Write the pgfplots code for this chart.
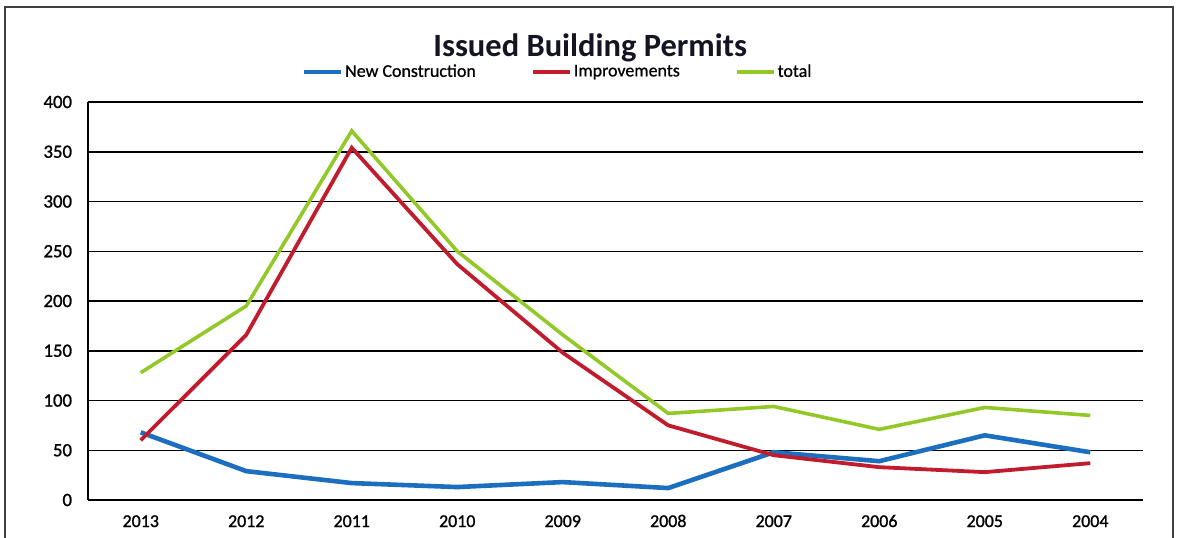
\documentclass[border=0pt]{standalone}
\usepackage{fontspec}
\setmainfont{Carlito}
\newfontfamily\tickfont{Carlito}[FakeBold=1.2]
\newfontfamily\legfont{Carlito}[FakeBold=0.8]
\usepackage{pgfplots}
\pgfplotsset{compat=1.18}
\definecolor{ncblue}{RGB}{28,110,190}
\definecolor{imred}{RGB}{192,28,45}
\definecolor{totgreen}{RGB}{146,200,40}
\definecolor{titlecol}{RGB}{20,20,35}

\pgfplotstableread{
x new impr total
0 68 60 128
1 29 166 195
2 17 354 371
3 13 237 250
4 18 148 166
5 12 75 87
6 48 45 94
7 39 33 71
8 65 28 93
9 48 37 85
}\permits

\begin{document}
\begin{tikzpicture}
\useasboundingbox (0,0) rectangle (589bp,269bp);
\draw[line width=0.8bp, black!75] (2.5bp,-5bp) rectangle (586.5bp,265.5bp);
\begin{axis}[
  at={(44bp,19bp)}, anchor=south west,
  scale only axis, width=527.5bp, height=199bp,
  xmin=-0.5, xmax=9.5, ymin=0, ymax=400,
  xtick={0,...,9},
  xticklabels={2013,2012,2011,2010,2009,2008,2007,2006,2005,2004},
  ytick={0,50,...,400},
  axis x line*=bottom, axis y line*=left,
  axis line style={-, black, line width=0.8bp},
  ymajorgrids, grid style={black, line width=0.75bp},
  major tick length=0pt,
  /pgf/number format/assume math mode=true,
  xticklabel style={font=\tickfont\fontsize{9}{10}\selectfont, anchor=base, yshift=-13.5bp},
  yticklabel style={font=\tickfont\fontsize{9.4}{10}\selectfont, anchor=east, inner xsep=0pt, xshift=-7.8bp},
  title={Issued Building Permits},
  title style={at={(0.476,1.105)}, anchor=center, font=\fontsize{16.3}{19}\selectfont\bfseries, text=titlecol},
  legend columns=3,
  legend style={draw=none, fill=none, at={(0.445,1.075)}, anchor=center,
    font=\legfont\fontsize{9}{11}\selectfont, inner sep=0pt,
    /tikz/every even column/.append style={column sep=27bp},
    nodes={inner xsep=0.8bp, inner ysep=0pt}},
  legend image code/.code={\draw[#1] (0bp,0bp) -- (18.5bp,0bp);},
  no marks,
]
\addplot[ncblue, line width=2.3bp] table[x=x, y=new] {\permits};
\addlegendentry{New Construction}
\addplot[imred, line width=1.9bp] table[x=x, y=impr] {\permits};
\addlegendentry{Improvements}
\addplot[totgreen, line width=1.8bp] table[x=x, y=total] {\permits};
\addlegendentry{total}
\end{axis}
\end{tikzpicture}
\end{document}
